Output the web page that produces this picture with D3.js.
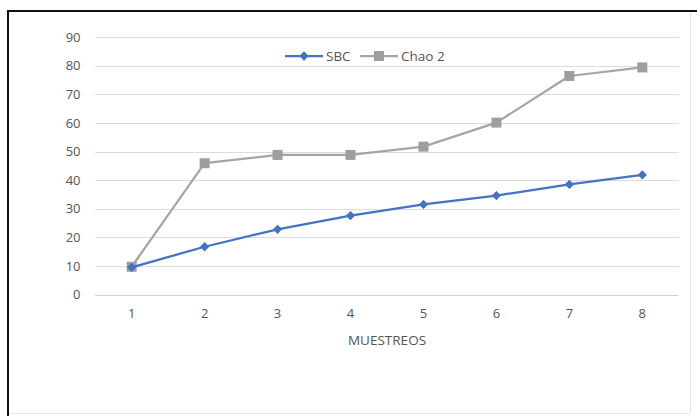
<!DOCTYPE html>
<html>
<head>
<meta charset="utf-8">
<script src="https://cdn.jsdelivr.net/npm/d3@7"></script>
<style>
  html, body { margin: 0; padding: 0; background: #fff; }
  svg { display: block; font-family: "Open Sans", "Noto Sans", sans-serif; }
</style>
</head>
<body>
<svg id="chart" width="697" height="416"></svg>
<script>
// Sampling rounds and the two species-richness curves
const categories = ["1", "2", "3", "4", "5", "6", "7", "8"];
const sbcValues = [9.5, 16.7, 22.8, 27.6, 31.5, 34.6, 38.5, 41.8];
const chaoValues = [9.7, 45.9, 48.8, 48.8, 51.7, 60.1, 76.4, 79.4];
const yTicks = [0, 10, 20, 30, 40, 50, 60, 70, 80, 90];
const seriesNames = ["SBC", "Chao 2"];
const xTitle = "MUESTREOS";

const svg = d3.select("#chart");
const W = 697, H = 416;
const textColor = "#555555";

// outer frame: dark top/left edges, faint right/bottom edges
svg.append("line").attr("x1", 7.5).attr("x2", W).attr("y1", 11).attr("y2", 11)
  .attr("stroke", "#111").attr("stroke-width", 2);
svg.append("line").attr("x1", 8).attr("x2", 8).attr("y1", 10).attr("y2", H)
  .attr("stroke", "#111").attr("stroke-width", 2);
svg.append("line").attr("x1", 690.5).attr("x2", 690.5).attr("y1", 12).attr("y2", 413)
  .attr("stroke", "#e6e6e6").attr("stroke-width", 1);
svg.append("line").attr("x1", 9).attr("x2", 690).attr("y1", 413.5).attr("y2", 413.5)
  .attr("stroke", "#e6e6e6").attr("stroke-width", 1);

const plot = { left: 95.2, right: 678.8, top: 37.1, bottom: 294.5 };

const x = d3.scaleBand().domain(categories).range([plot.left, plot.right]);
const y = d3.scaleLinear().domain([0, 90]).range([plot.bottom, plot.top]);
const cx = c => x(c) + x.bandwidth() / 2;

// horizontal gridlines
svg.append("g").selectAll("line").data(yTicks.filter(t => t > 0)).join("line")
  .attr("x1", plot.left).attr("x2", plot.right)
  .attr("y1", d => Math.round(y(d)) + 0.5).attr("y2", d => Math.round(y(d)) + 0.5)
  .attr("stroke", "#dcdcdc").attr("stroke-width", 1);

// category axis baseline
svg.append("line").attr("x1", plot.left).attr("x2", plot.right)
  .attr("y1", Math.round(y(0)) + 0.5).attr("y2", Math.round(y(0)) + 0.5)
  .attr("stroke", "#cfcfcf").attr("stroke-width", 1);

// value axis labels
const yAxis = d3.axisLeft(y).tickValues(yTicks).tickSize(0).tickPadding(0);
const gy = svg.append("g").attr("transform", `translate(${80.5},0)`).call(yAxis);
gy.select(".domain").remove();
gy.selectAll("text").attr("fill", textColor).style("font-size", "13px")
  .style("font-family", "'Open Sans', 'Noto Sans', sans-serif");

// category axis labels
const xAxis = d3.axisBottom(x).tickSize(0).tickPadding(0);
const gx = svg.append("g").attr("transform", `translate(0,${309})`).call(xAxis);
gx.select(".domain").remove();
gx.selectAll("text").attr("fill", textColor).style("font-size", "13px")
  .style("font-family", "'Open Sans', 'Noto Sans', sans-serif");

// axis title
svg.append("text").attr("x", (plot.left + plot.right) / 2).attr("y", 344.5)
  .attr("text-anchor", "middle").attr("fill", textColor)
  .style("font-size", "13.5px").text(xTitle);

const line = d3.line().x((d, i) => cx(categories[i])).y(d => y(d));

const gray = "#a5a5a5", grayMark = "#9e9e9e", blue = "#4472c4";

// Chao 2 series
svg.append("path").datum(chaoValues).attr("d", line)
  .attr("fill", "none").attr("stroke", gray).attr("stroke-width", 2.25)
  .attr("stroke-linejoin", "round");
svg.append("g").selectAll("rect").data(chaoValues).join("rect")
  .attr("x", (d, i) => cx(categories[i]) - 5).attr("y", d => y(d) - 5)
  .attr("width", 10).attr("height", 10).attr("fill", grayMark);

// SBC series
svg.append("path").datum(sbcValues).attr("d", line)
  .attr("fill", "none").attr("stroke", blue).attr("stroke-width", 2.25)
  .attr("stroke-linejoin", "round");
const diamond = d3.symbol().type(d3.symbolDiamond2).size(55);
svg.append("g").selectAll("path").data(sbcValues).join("path")
  .attr("d", diamond)
  .attr("transform", (d, i) => `translate(${cx(categories[i])},${y(d)})`)
  .attr("fill", blue);

// legend
const legY = 56;
const legend = svg.append("g");
const legItems = [
  { name: seriesNames[0], x0: 285, color: blue, marker: "diamond" },
  { name: seriesNames[1], x0: 360, color: gray, marker: "square" }
];
legItems.forEach(it => {
  legend.append("line").attr("x1", it.x0).attr("x2", it.x0 + 38)
    .attr("y1", legY).attr("y2", legY).attr("stroke", it.color).attr("stroke-width", 2.25);
  if (it.marker === "diamond") {
    legend.append("path").attr("d", diamond)
      .attr("transform", `translate(${it.x0 + 19},${legY})`).attr("fill", it.color);
  } else {
    legend.append("rect").attr("x", it.x0 + 14).attr("y", legY - 5)
      .attr("width", 10).attr("height", 10).attr("fill", grayMark);
  }
  legend.append("text").attr("x", it.x0 + 41).attr("y", legY + 5)
    .attr("fill", textColor).style("font-size", "13.5px").text(it.name);
});
</script>
</body>
</html>
